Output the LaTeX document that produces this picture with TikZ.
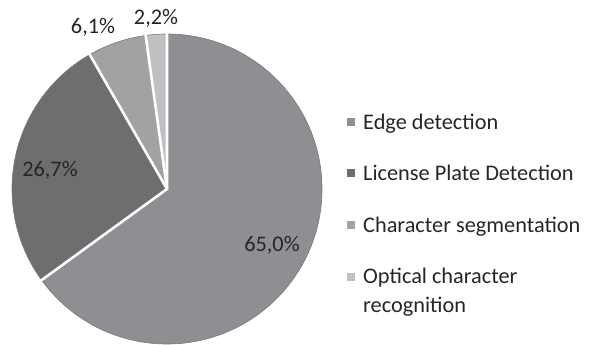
\documentclass[tikz,border=0pt]{standalone}
\usepackage{fontspec}
\setmainfont{Carlito}
\definecolor{edgec}{RGB}{142,143,146}
\definecolor{licc}{RGB}{110,110,113}
\definecolor{charc}{RGB}{162,162,164}
\definecolor{optc}{RGB}{192,192,194}
\definecolor{txt}{RGB}{38,38,38}
\definecolor{rim}{RGB}{120,120,122}
\tikzset{
  lbl/.style={text=txt, font=\fontsize{22.3}{29}\selectfont, inner sep=0pt},
  legtext/.style={lbl, anchor=base west, align=left},
  legsq/.style={minimum size=8pt, inner sep=0pt, draw=none},
  sep/.style={white, line width=2.6pt},
}
\begin{document}
\begin{tikzpicture}[x=1pt,y=1pt]
\useasboundingbox (0,-345) rectangle (597,0);
\def\R{155}
\coordinate (C) at (167,-189);
% slices
\fill[edgec] (C) -- ++(90:\R) arc[start angle=90, end angle=-144, radius=\R] -- cycle;
\fill[licc] (C) -- ++(-144:\R) arc[start angle=-144, end angle=-240.12, radius=\R] -- cycle;
\fill[charc] (C) -- ++(-240.12:\R) arc[start angle=-240.12, end angle=-262.08, radius=\R] -- cycle;
\fill[optc] (C) -- ++(-262.08:\R) arc[start angle=-262.08, end angle=-270, radius=\R] -- cycle;
\draw[rim, line width=0.6pt] (C) circle[radius=\R];
% separators
\path (C) ++(90:\R+1) coordinate (b1);
\path (C) ++(-144:\R+1) coordinate (b2);
\path (C) ++(-240.12:\R+1) coordinate (b3);
\path (C) ++(-262.08:\R+1) coordinate (b4);
\draw[sep] (b1) -- (C) -- (b2);
\draw[sep] (C) -- (b3);
\draw[sep] (C) -- (b4);
% labels
\node[lbl] (l1) at (272,-245) {65,0\%};
\node[lbl] (l2) at (50,-170) {26,7\%};
\node[lbl] (l3) at (93,-27) {6,1\%};
\node[lbl] (l4) at (156,-18) {2,2\%};
% legend
\node[legsq, fill=edgec] (s1) at (351,-122) {};
\node[legsq, fill=licc] (s2) at (351,-173) {};
\node[legsq, fill=charc] (s3) at (351,-225) {};
\node[legsq, fill=optc] (s4) at (351,-277) {};
\node[legtext] (t1) at (363,-129) {Edge detection};
\node[legtext] (t2) at (363,-180) {License Plate Detection};
\node[legtext] (t3) at (363,-232) {Character segmentation};
\node[legtext] (t4) at (363,-312) {Optical character\\recognition};
\end{tikzpicture}
\end{document}
